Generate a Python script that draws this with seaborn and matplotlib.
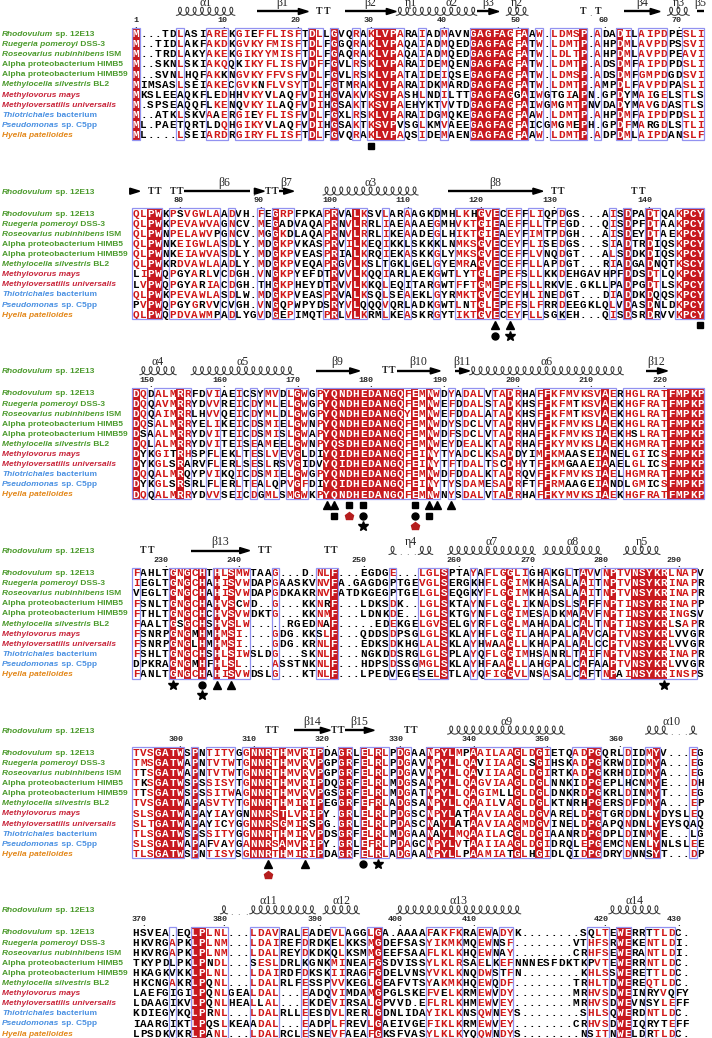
import numpy as np
import pandas as pd
import matplotlib
matplotlib.use("Agg")
import matplotlib.pyplot as plt
import seaborn as sns
from collections import Counter
from matplotlib.colors import ListedColormap
from matplotlib.patches import Rectangle, Polygon

sns.set_theme(style="white")
plt.rcParams["font.family"] = ["DejaVu Sans"]

# species (rows): italic part, upright part, group
names_italic = ["Rhodovulum", "Ruegeria pomeroyi", "Roseovarius nubinhibens", "", "",
                "Methylocella silvestris", "Methylovorus mays", "Methyloversatilis universalis",
                "Thiotrichales", "Pseudomonas", "Hyella patelloides"]
names_plain = ["sp. 12E13", "DSS-3", "ISM", "Alpha proteobacterium HIMB5",
               "Alpha proteobacterium HIMB59", "BL2", "", "", "bacterium", "sp. C5pp", ""]
name_groups = ["alpha"] * 6 + ["beta"] * 2 + ["gamma"] * 2 + ["cyano"]
group_colors = {"alpha": "#4b9a2c", "beta": "#c8243a", "gamma": "#4990e2", "cyano": "#e3881b"}

# alignment blocks
block1 = ["M...TDLASIAREKGIEFFLISFTDLLGVQRAKLVPARAIADMAVNGAGFAGFAAW.LDMSP.ADADILAIPDPESLI",
          "M..TIDLAKFAKDKGVKYFMISFTDLFGGQRAKLVPAQAIADMQEDGAGFAGFATW.LDMTP.AHPDMLAVPDPSSVI",
          "M..TRDLAKYAKEKGIKYYMISFTDLFGAQRAKLVPAQAIADMQEDGAGFAGFATW.LDLTP.AHPDMLAVPDPEAVI",
          "M..SKNLSKIAKQQKIKYFLISFVDFFGVLRSKLVPARAIDEMQENGAGFAGFATW.LDMTP.ADSDMFAIPDPDSLI",
          "M..SVNLHQFAKKNGVKYFFVSFVDLFGVLRSKLVPATAIDEIQSEGAGFAGFATW.LDMSP.ADSDMFGMPDGDSVI",
          "MIMSASLSEIAKECGVKNFLVSYTDLFGTMRAKLVPARAIDKMARDGAGFAGFATW.LDMTP.AMPDLFAVPDPASLI",
          "MKSLEEAQKFLEDHHVKYVLAQFVDIHGVAKVKSVPASHLNDILTTGAGFAGGAIWGTGIAPN.GPDYMAIGELSTLS",
          "M.SPSEAQQFLKENQVKYILAQFVDIHGSAKTKSVPAEHYKTVVTDGAGFAGFAIWGMGMTPNVDADYMAVGDASTLS",
          "M..ATKLSKVAAERGIEYFLISFVDLFGXLRSKLVPARAIDGMQKEGAGFAGFAAW.LDMTP.AHPDMFAIPDPDSLI",
          "ML.PAETQRTLDQHGIKYVLAQFVDIHGSAKTKSVPVSGLKMVAEEGAGFAGFAICGMGMEPH.GPDFMARGDLSTLI",
          "ML....LSEIARDRGIRYFLISFTDLFGVQRAKLVPAQSIDEMAENGAGFAGFAAW.LDMTP.ADPDMLAIPDANSLF"]
block2 = ["QLPWKPSVGWLAADVH.FEGRPFPKAPRVALKSVLARAAGKDMHLKHGVECEFFLIQPDGS...AISDPADTQAKPCY",
          "QLPWKPEVAWVAGNCV.MEGADVAQAPRNVLRRLIAEAAAEGMHVKTGIEAEFFLLTPEGD...QISDPFDTAAKPCY",
          "QLPWNPELAWVPGNCV.MGGKDLAQAPRNVLRRLIKEAADEGLHIKTGIEAEYFIMTPDGH...AISDEYDTAEKPCY",
          "QLPWNKEIGWLASDLY.MDGKPVKASPRVILKEQIKKLSKKKLNMKSGVECEYFLISEDGS...SIADTRDIQSKPCY",
          "QLPWNKEIAWVASDLY.MDGKPVEASPRIALKRQIEKASKKGLYMKSGVECEFFLVNQDGT...ALSDDKDIQSKPCY",
          "QLPWKRDVAWLAADLY.MDGKPVEQAPRGVLKSLTGKLGELGYEMRAGVECEFFLLAPDGT...RIADGADNQTKSCY",
          "LIPWQPGYARLVCDGH.VNGKPYEFDTRVVLKQQIARLAEKGWTLYTGLEPEFSLLKKDEHGAVHPFDDSDTLQKPCY",
          "LVPWQPGYARIACDGH.THGKPHEYDTRVVLKKQLEQITARGWTFFTGMEPEFSLLRKVE.GKLLPADPGDTLSKPCY",
          "QLPWKPEVAWLASDLW.MDGKPVEASPRVALKSQLSEAEKLGYRMKTGVECEYHLINEDGT...DIADDKDQQSKPCY",
          "PVPWQPGYGRVVCVGH.VNGQPWPYDSRYVLQQQVQRLADKGWTLNTGLEPEFSLFRRDEEGKLQLVDASDNLDKPCY",
          "QLPWQPDVAWMPADLYGVDGEPIMQTPRLVLKRMLKEASKRGYTIKTGVECEYFLLSGKEH...QISDSRDRVVKPCY"]
block3 = ["DQDALMRRFDVIAEICSYMVDLGWGPYQNDHEDANGQFEMNWDYADALVTADRHAFFKFMVKSVAERHGLRATFMPKP",
          "DQQAVMRRYDVVREICDYMLELGWGPYQNDHEDANGQFEMNWEFDDALSTADKHSFFKFMTKSVAEKHGFRATFMPKP",
          "DQQAIMRRLHVVQEICDYMLDLGWGPYQNDHEDANGQYEMNWEFDDALATADKHSFFKFMTKSVAEKHGLRATFMPKP",
          "DQSALMRRYELIKEICDSMIELGWNPYQNDHEDANGQFEMNWDYSDCLVTADRHVFFKFMVKSLAEKHGLRATFMPKP",
          "DSAALMRRYDVITEICDSMISLGWAPYQNDHEDANGQFEMNWDFSDCLVTADRHAFFKFMVKSIAEKHSLRATFMPKP",
          "DQLALMRRYDVITEISEAMEELGWNPYQSDHEDANGQFEMNWEYDEALKTADRHAFFKYMVKSLAEKHGMRATFMPKP",
          "DYKGITRHSPFLEKLTESLVEVGLDIYQIDHEDANGQFEINYTYADCLKSADDYIMFKMAASEIANELGIICSFMPKP",
          "DYKGLSRARVFLERLSESLRSVGIDVYQIDHEDANGQFEINYTFTDALTSCDHYTFFKMGAAEIAAELGLICSFMPKP",
          "DQQALMRQYPVIKQICDSMIELGWGPYQNDHEDANGQFEMNWDFDDALKTADRQVFFKFMVKSIAELHGMRATFMPKP",
          "DYKGLSRSRLFLERLTEALQPVGFDIYQIDHEDANGQFEINYTYSDAMESADRFTFFRMAAGEIANDLGMICSFMPKP",
          "DQQALMRRYDVVSEICDGMLSMGWKPYQNDHEDANGQFEMNWNYSDALVTADRHAFFKYMVKSIAEKHGFRATFMPKP"]
block4 = ["FAHLTGNGCHTHLSMWTAAG...D.NLF...EGDGE...LGLSPTAYAFLGGLIGHAKGLTAVVNPTVNSYKRLNAPV",
          "IEGLTGNGCHAHISVWDAPGAASKVNVFA.GAGDGPTGEVGLSERGKHFLGGIMKHASALAAITNPTVNSYKRINAPR",
          "VEGLTGNGCHAHISVWDAPGDKAKRNVFATDKGEGPTGELGLSEQGKYFLGGIMKHASALAAITNPTVNSYKRINAPR",
          "FSNLTGNGCHAHVSCWD..G...KKNRF...LDKSDK..LGLSKTAYNFLGGLIKNADSLSAFFNPTINSYRRINAPP",
          "FTHLTGNGCHCHVSVWDKTG...KKNMF...LDNKDE..LGLSKTGYNFLGGIMESADKMAAVFNPTINSYKRINGSV",
          "FAALTGSGCHSHVSLW.....RGEDNAF.....EDEKGELGVSELGYRFLGGLMAHADALCALTNPTINSYKRLSAPR",
          "FSNRPGNGMHMHMSI....GDG.KKSLF...QDDSDPSGLGLSKLAYHFLGGILAHAPALAAVCAPTVNSYKRLVVGR",
          "FSNRPGNGLHMHMSI....GDG.KRNLF...EDKSDKHGLALSKLAYHWAAGLLKHAPALAALCCPTVNSYKRLVVGR",
          "FSHLTGNGCHSHLSIWSLDG...SKNLF...NGKDDSRGLGLSPLAYQFLGGIMHSANRLTAIFNPTVNSYKRINAPR",
          "DPKRAGNGMHFHLSL....ASSTNKNLF...HDPSDSSGMGLSKLAYHFAAGLLAHGPALCAFAAPTVNSYKRLVVGR",
          "FANLTGNGCHAHISVWDSLG...KTNLF...LPEDVEGESELSTLAYQFIGGVLNSASALCAFTNPAINSYKRINSPS"]
block5 = ["TVSGATWSPNTITYGGNNRTHMVRIPDAGRLELRLPDGAANPYLMPAAILAAGLDGIETQADPGQRLDIDMYV...EG",
          "TMSGATWAPNTVTWTGNNRTHMVRVPGPGRFELRLPDGAVNPYLLQAVIIAAGLSGIHSKADPGKRWDIDMYA...EG",
          "TTSGATWAPNTVTWTGNNRTHMVRVPGPGRFELRLPDGAVNPYLLQAVIIAAGLDGIRTKADPGKRHDIDMYA...EG",
          "TKSGATWSPSSISYTGNNRTHMVRIPDQGRFELRLMDGSANPYLLQAGVIAAGLDGLNNKIDPGEPLHCNMYE...DH",
          "TTSGATWSPSSITWAGNNRTHMVRVPGSGRFELRLMDGATNPYLLQAGIMLLGLDGLDNKRDPGKRLDINMYT...EG",
          "TVSGATWAPASVTYTGNNRTHMIRIPEGGRFEFRLADGSANPYLLQAAILVAGLDGLKTNRHPGERSDFDMYA...EP",
          "SLSGATWAPAYIAYGNNNRSTLVRIPY.GRLELRLPDGSCNPYLATAAVIAAGLDGVARELDPGTGRDDNLYDYSLEQ",
          "SLTGATWAPAYICYGGNNRSGMIRSPG.GRLELRLPDASCNAYLATAAVIAAGMDGVINELDPGAPQNDNLYEYSQAQ",
          "TLSGATWSPSSITYGGNNRTHMIRVPDSGRFELRLMDGAANAYLMQAAILACGLDGIAANRDPGDPLDINMYE...LG",
          "SLSGATWAPAFVAYGANNRSAMVRIPY.GRLEFRLPDAGCNPYLVTAAIIAAGLDGIDRQLEPGEMCNENLYNLSLEE",
          "TLSGATWSPNTISYSGNNRTHMIRIPDAGRFELRLADGAANPYLLPAAMIATGLHGIDLQIDPGDRYDNNSYT...DP"]
block6 = ["HSVEA.EQLPLNL...LDAVRALEADEVLAGGLGA.AAAAFAKFKRAEWADYK........SQLTEWERRTTLDC.",
          "HKVRGAPKLPLNM...LDAIREFDRDKELKKSMGDEFSASYIKMKMQEWNSF........VTHFSRWEKENTLDI.",
          "HKVRGAPKLPLNM...LDALREYDKDKQLKSMMGEEFSAAFLKLKHQEWNAY........CRHFSEWERANTLDI.",
          "TKYPDLPKLPNDL...SESLDRLKGNKMINEAFGSDVISSYLKLRSAELKEFNNNESFDKTKPVTEWERRNTLDC.",
          "HKAGKVKKLPLNL...LDAIRDFDKSKIIRAGFGDELVNSYVKLKNQDWSTFN........KHLSSWERETTLDC.",
          "HKCNGAKRLPQNL...LDALRLFESSPVVKEGLGEAFVTSYAKMKHQEWQDF........TRHLTDWEREQTLDC.",
          "LAEFGIGILPQNLGEALDAL...EADQVIMDAMGPGLSKEFVELKRMEWVDY........MRHVSDWEINRYVQFY",
          "LDAAGIKVLPQNLHEALLAL...EKDEVIRSALGPVVD.EFLRLKHMEWVEY........MRHVSDWEVNSYLEFF",
          "KDIEGYKQLPRNL...LDALRLLEESDVLRERLGDNLIDAYIKLKNSQWNEYS........SHLSQWERDNTLDC.",
          "IAARGIKTLPQSLKEAADAL...EADPLFREVLGAEIVGEFIKLKRMEWVEY........CRHVSDWEIQRYTEFF",
          "LPSDKVKRLPANL...LDALRCLESNEVFAEAFGKSFVASYLKLKYQQWNDYS........NSITNWELDRTLDC."]

# column shading: R = identical (red box), B = similar (blue frame), - = none
style1 = "R-----B---BBB-BBBBBBBBB-RB-R--B-BRRRB--B--B---RRRRRRBR-B-BBBBR-B--RB-BBBB--BBB"
style2 = "BBRR-BBBBBBB-B---B-RBB----BR-BRB--B--B---B--BBBRBR-BB-BB--B------B-R--RB--BRRR"
style3 = "RB-BBBRB--BB--B-B-BB-BRB-BRRRRRRRRRRRBRBRB-B-BBB-BBRB--BRBBBBBBBRB-BBBBBBRRRRR"
style4 = "B----RBRBR-RBRBB---B-----BBR-------B---BBBR---B-BBBRBB--B--B-RB-BRBBRRRRRBBBB-"
style5 = "BBBRRRR-R-BBBB-BRRRBRBBRBR--RR-RBRB-RB--RBRRBBRBBBBBRBBRB---BBRR---B--BR----B-"
style6 = "-----B--RRBBB---BBBB---B---BB---BR------BBBBB--BB-BB----------BBB-RR--BBBB--"

# secondary structure of Rhodovulum sp. 12E13: (kind, first col, last col, label)
# H helix, E strand with head, S strand continuing, T turn
ss1 = [("H", 6, 13, "α1"), ("E", 17, 23, "β1"), ("T", 25, 26, ""), ("E", 29, 35, "β2"),
       ("H", 36, 39, "η1"), ("H", 40, 46, "α2"), ("E", 47, 49, "β3"), ("H", 51, 53, "η2"),
       ("T", 61, 63, ""), ("E", 67, 71, "β4"), ("H", 73, 75, "η3"), ("S", 77, 77, "β5")]
ss2 = [("E", 0, 0, ""), ("T", 2, 3, ""), ("T", 5, 6, ""), ("E", 7, 17, "β6"), ("T", 18, 19, ""),
       ("E", 20, 21, "β7"), ("H", 26, 38, "α3"), ("E", 43, 55, "β8"), ("T", 57, 58, ""),
       ("T", 68, 69, "")]
ss3 = [("H", 1, 5, "α4"), ("H", 8, 21, "α5"), ("E", 25, 30, "β9"), ("T", 34, 35, ""),
       ("E", 36, 41, "β10"), ("E", 44, 45, "β11"), ("H", 46, 66, "α6"), ("E", 70, 72, "β12")]
ss4 = [("T", 1, 2, ""), ("E", 8, 15, "β13"), ("T", 17, 18, ""), ("T", 26, 27, ""),
       ("H", 35, 40, "η4"), ("H", 43, 54, "α7"), ("H", 56, 63, "α8"), ("H", 67, 71, "η5")]
ss5 = [("T", 18, 19, ""), ("E", 22, 26, "β14"), ("T", 27, 28, ""), ("E", 29, 32, "β15"),
       ("T", 37, 38, ""), ("H", 43, 58, "α9"), ("H", 70, 76, "α10")]
ss6 = [("H", 12, 24, "α11"), ("H", 26, 30, "α12"), ("H", 36, 52, "α13"), ("H", 65, 71, "α14")]

# site markers under the blocks: (marker row, col, shape)
marks1 = [(0, 32, "s")]
marks2 = [(0, 49, "^"), (0, 51, "^"), (0, 77, "s"), (1, 49, "o"), (1, 51, "*")]
marks3 = [(0, 26, "^"), (0, 27, "^"), (0, 29, "s"), (0, 31, "s"), (0, 38, "s"), (0, 40, "^"),
          (0, 41, "^"), (0, 43, "^"), (1, 27, "s"), (1, 29, "p"), (1, 31, "o"), (1, 38, "o"),
          (1, 40, "s"), (2, 31, "*"), (2, 38, "p")]
marks4 = [(0, 5, "*"), (0, 9, "o"), (0, 11, "^"), (0, 13, "^"), (0, 72, "*"), (1, 9, "*")]
marks5 = [(0, 18, "^"), (0, 23, "^"), (0, 31, "o"), (0, 33, "*"), (1, 18, "p")]
marks6 = []

blocks = [block1, block2, block3, block4, block5, block6]
styles = [style1, style2, style3, style4, style5, style6]
ss_all = [ss1, ss2, ss3, ss4, ss5, ss6]
marks_all = [marks1, marks2, marks3, marks4, marks5, marks6]

RED = "#c8191e"
RED_TXT = "#d01818"
BLUE = "#9292f0"
GROUPS = ["ILMV", "FYW", "KRH", "DE", "NQ", "ST", "AG", "FH", "YH", "DN", "EQ", "AS", "FL", "FM", "FI"]


def similar(a, b):
    return a == b or any(a in g and b in g for g in GROUPS)


def runs(cols):
    out = []
    for c in cols:
        if out and c == out[-1][-1] + 1:
            out[-1].append(c)
        else:
            out.append([c])
    return out


W, H = 712, 1038
cw, rh = 7.33, 10.1
x_first = 136.0
row1_first = 33.5
block_step = 179.7

fig = plt.figure(figsize=(W / 100, H / 100), dpi=100)
fig.patch.set_facecolor("white")
base = fig.add_axes([0, 0, 1, 1])
base.set_xlim(0, W)
base.set_ylim(H, 0)
base.axis("off")

SEQ_FONT = dict(family="Liberation Mono", weight="bold", fontsize=7.9)
NAME_SIZE = 6.0


def draw_name(y, r):
    color = group_colors[name_groups[r]]
    kw = dict(color=color, weight="bold", fontsize=NAME_SIZE, family="Liberation Sans")
    parts = []
    if names_italic[r]:
        parts.append((names_italic[r], "italic"))
    if names_plain[r]:
        parts.append(((" " if parts else "") + names_plain[r], "normal"))
    prev = None
    for txt, st in parts:
        if prev is None:
            prev = base.text(2, y, txt, style=st, va="baseline", ha="left", **kw)
        else:
            prev = base.annotate(txt, xy=(1, 0), xycoords=prev, style=st, va="bottom",
                                 ha="left", **kw)


res_count = 0
for b, (seqs, style, ss, marks) in enumerate(zip(blocks, styles, ss_all, marks_all)):
    nc = max(len(s) for s in seqs)
    seqs = [s.ljust(nc, ".") for s in seqs]
    style = style.ljust(nc, "-")[:nc]
    nr = len(seqs)
    row1 = row1_first + b * block_step
    left = x_first - cw / 2
    top = row1 - rh / 2
    ax = fig.add_axes([left / W, 1 - (top + nr * rh) / H, nc * cw / W, nr * rh / H])

    grid = pd.DataFrame([[1 if (style[c] == "R" and s[c] != ".") else 0 for c in range(nc)]
                         for s in seqs])
    sns.heatmap(grid, ax=ax, cmap=ListedColormap(["white", RED]), vmin=0, vmax=1,
                cbar=False, xticklabels=False, yticklabels=False)
    ax.set_xlim(0, nc)
    ax.set_ylim(nr, 0)
    ax.axis("off")

    # consensus residue per column
    cons = []
    for c in range(nc):
        col = [s[c] for s in seqs if s[c] != "."]
        cons.append(Counter(col).most_common(1)[0][0] if col else ".")

    for r, s in enumerate(seqs):
        for c, ch in enumerate(s):
            mode = style[c]
            if mode == "R" and ch != ".":
                color = "white"
            elif mode == "B" and ch != "." and similar(ch, cons[c]):
                color = RED_TXT
            else:
                color = "black"
            ax.text(c + 0.5, r + 0.56, ch, ha="center", va="center", color=color,
                    clip_on=False, **SEQ_FONT)

    # blue frames around runs of conserved columns
    c = 0
    while c < nc:
        if style[c] != "-":
            c0 = c
            while c < nc and style[c] != "-":
                c += 1
            ax.add_patch(Rectangle((c0, 0), c - c0, nr, fill=False, ec=BLUE, lw=0.9,
                                   clip_on=False, zorder=4))
        else:
            c += 1

    # residue numbering of the reference sequence
    ref = seqs[0]
    y_num = 0.5 - 12.5 / rh
    for c, ch in enumerate(ref):
        if ch == ".":
            continue
        res_count += 1
        if res_count == 1 or res_count % 10 == 0:
            lab = str(res_count)
            if len(lab) == 1:
                ax.text(c + 0.5, y_num, lab, ha="center", va="center", clip_on=False,
                        family="Liberation Mono", weight="bold", fontsize=6)
            else:
                ax.text(c + 0.95, y_num, lab, ha="right", va="center", clip_on=False,
                        family="Liberation Mono", weight="bold", fontsize=6)
            ax.text(c + 0.5, 0.5 - 7.5 / rh, ".", ha="center", va="center", clip_on=False,
                    family="DejaVu Sans", weight="bold", fontsize=5)

    # secondary structure line
    y_ss = 0.5 - 22 / rh
    y_lab = 0.5 - 30.5 / rh
    for kind, s0, e0, lab in ss:
        cols = list(range(s0, e0 + 1))
        for cc in cols:
            if ref[cc] == ".":
                ax.text(cc + 0.5, y_ss + 0.2, ".", ha="center", va="center", clip_on=False,
                        family="DejaVu Sans", fontsize=5.5, color="#333333")
        filled = [cc for cc in cols if ref[cc] != "."]
        if kind == "H":
            for run in runs(filled):
                n = len(run)
                t = np.linspace(0, 2 * np.pi * n, 60 * n)
                xs = run[0] + t / (2 * np.pi) + 0.42 * np.sin(t)
                ys = y_ss + 0.38 - 0.8 * (1 - np.cos(t)) / 2
                ax.plot(xs, ys, color="#3a3a3a", lw=0.75, clip_on=False, solid_capstyle="round")
        elif kind in "ES":
            head = kind == "E"
            body = [cc for cc in filled if not (head and cc == e0)]
            for run in runs(body):
                x1 = run[-1] + 1
                if head and run[-1] == e0 - 1:
                    x1 = e0 + 1 - 1.1
                ax.plot([run[0] + 0.05, x1], [y_ss, y_ss], color="black", lw=1.7,
                        solid_capstyle="butt", clip_on=False)
            if head:
                ax.add_patch(Polygon([[e0 + 1 - 1.35, y_ss - 0.3], [e0 + 1, y_ss],
                                      [e0 + 1 - 1.35, y_ss + 0.3]], closed=True,
                                     color="black", clip_on=False))
        elif kind == "T":
            for cc in filled:
                ax.text(cc + 0.5, y_ss, "T", ha="center", va="center", clip_on=False,
                        family="Liberation Serif", weight="bold", fontsize=7)
        if lab:
            ax.text((s0 + e0 + 1) / 2, y_lab, lab, ha="center", va="center", clip_on=False,
                    family="Liberation Serif", fontsize=8.5)

    # markers under the block
    for mrow, mc, shape in marks:
        size = {"s": 4.6, "^": 5.2, "o": 5.0, "*": 7.0, "p": 6.2}[shape]
        color = "#b51d1d" if shape == "p" else "black"
        ax.plot(mc + 0.5, nr + 0.6 + 1.05 * mrow, marker=shape, ms=size, color=color,
                mec=color, ls="none", clip_on=False)

    # species names
    for r in range(nr):
        draw_name(row1 + r * rh + 2.5, r)
    if b > 0:
        draw_name(row1 - 22 + 2.5, 0)

fig.savefig("out.png", dpi=100, facecolor="white")
